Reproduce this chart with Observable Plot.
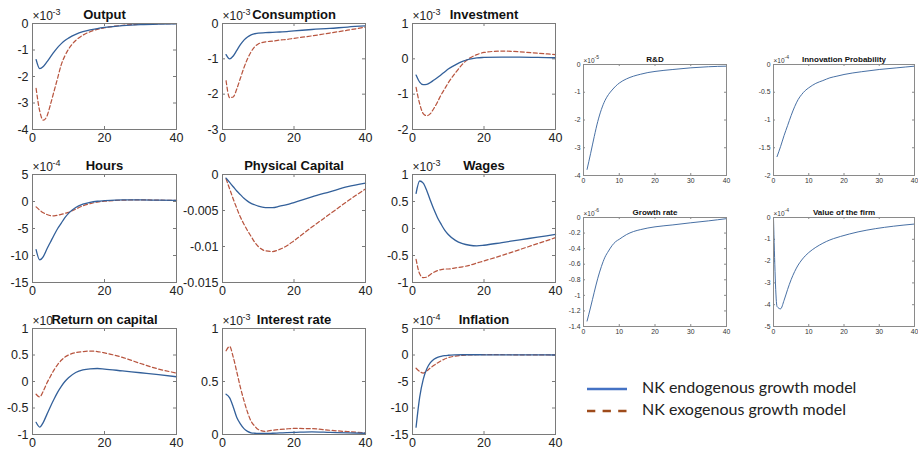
<!DOCTYPE html>
<html><head><meta charset="utf-8">
<script src="https://cdn.jsdelivr.net/npm/d3@7"></script>
<script src="https://cdn.jsdelivr.net/npm/@observablehq/plot@0.6"></script>
<style>
body{margin:0;background:#fff;}
#fig{position:relative;width:918px;height:450px;overflow:hidden;background:#fff;}
#fig svg{position:absolute;}
</style></head><body><div id="fig"></div>
<script>
// ---------- data (values in the units shown on each axis) ----------
const T = [1,2,3,4,5,6,7,8,9,10,12,14,16,18,20,25,30,35,40];
const seriesNames = ["NK endogenous growth model","NK exogenous growth model"];
const leftXLabels = ["0","20","40"];
const rightXLabels = ["0","10","20","30","40"];

const outputEndo = [-1.36,-1.70,-1.62,-1.45,-1.26,-1.07,-0.90,-0.76,-0.64,-0.55,-0.41,-0.31,-0.24,-0.19,-0.15,-0.08,-0.04,-0.02,-0.01];
const outputExo  = [-2.45,-3.30,-3.65,-3.50,-3.05,-2.55,-2.05,-1.55,-1.22,-0.97,-0.64,-0.44,-0.31,-0.22,-0.16,-0.07,-0.03,-0.01,0.0];
const outputY = ["0","-1","-2","-3","-4"];

const consEndo = [-0.88,-1.00,-0.92,-0.76,-0.60,-0.47,-0.38,-0.32,-0.29,-0.27,-0.26,-0.25,-0.24,-0.23,-0.21,-0.17,-0.14,-0.10,-0.07];
const consExo  = [-1.62,-2.10,-2.08,-1.85,-1.55,-1.25,-1.00,-0.80,-0.66,-0.58,-0.52,-0.50,-0.47,-0.45,-0.42,-0.35,-0.27,-0.19,-0.10];
const consY = ["0","-1","-2","-3"];

const invEndo = [-0.46,-0.66,-0.73,-0.72,-0.67,-0.60,-0.53,-0.45,-0.37,-0.29,-0.17,-0.07,-0.01,0.03,0.04,0.05,0.05,0.04,0.03];
const invExo  = [-0.81,-1.27,-1.55,-1.61,-1.55,-1.40,-1.22,-1.02,-0.85,-0.68,-0.40,-0.15,0.02,0.12,0.18,0.22,0.20,0.16,0.12];
const invY = ["1","0","-1","-2"];

const hoursEndo = [-8.9,-10.8,-10.2,-8.8,-7.5,-6.2,-5.0,-4.0,-3.0,-2.2,-1.1,-0.5,-0.15,0.05,0.15,0.3,0.3,0.25,0.2];
const hoursExo  = [-1.0,-1.6,-2.1,-2.4,-2.6,-2.65,-2.55,-2.4,-2.2,-2.0,-1.4,-0.8,-0.4,-0.1,0.05,0.25,0.3,0.25,0.2];
const hoursY = ["5","0","-5","-10","-15"];

const capEndo = [-0.0005,-0.0011,-0.0017,-0.0023,-0.0028,-0.0033,-0.0037,-0.0040,-0.0042,-0.0044,-0.0046,-0.0046,-0.0044,-0.0042,-0.0039,-0.0031,-0.0024,-0.0017,-0.0012];
const capExo  = [-0.0006,-0.0020,-0.0034,-0.0047,-0.0059,-0.0069,-0.0078,-0.0086,-0.0094,-0.0100,-0.0106,-0.0107,-0.0104,-0.0099,-0.0092,-0.0073,-0.0055,-0.0037,-0.0020];
const capY = ["0","-0.005","-0.01","-0.015"];

const wageEndo = [0.65,0.88,0.84,0.70,0.52,0.35,0.20,0.08,-0.03,-0.11,-0.22,-0.28,-0.31,-0.32,-0.31,-0.26,-0.21,-0.16,-0.11];
const wageExo  = [-0.57,-0.84,-0.91,-0.90,-0.85,-0.81,-0.78,-0.76,-0.75,-0.75,-0.73,-0.71,-0.68,-0.64,-0.60,-0.50,-0.39,-0.28,-0.17];
const wageY = ["1","0.5","0","-0.5","-1"];

const retEndo = [-0.77,-0.86,-0.77,-0.62,-0.47,-0.33,-0.20,-0.09,0.00,0.07,0.17,0.22,0.24,0.245,0.235,0.20,0.165,0.13,0.09];
const retExo  = [-0.24,-0.29,-0.18,-0.03,0.10,0.22,0.32,0.40,0.46,0.50,0.545,0.565,0.575,0.565,0.54,0.455,0.34,0.235,0.16];
const retY = ["1","0.5","0","-0.5","-1"];

const intEndo = [0.38,0.345,0.26,0.16,0.10,0.055,0.03,0.016,0.012,0.01,0.01,0.012,0.015,0.018,0.02,0.025,0.02,0.015,0.012];
const intExo  = [0.79,0.83,0.73,0.59,0.445,0.32,0.21,0.125,0.08,0.047,0.03,0.04,0.047,0.053,0.057,0.055,0.04,0.027,0.016];
const intY = ["1","0.5","0"];

const inflEndo = [-13.6,-8.0,-4.6,-2.6,-1.45,-0.8,-0.45,-0.25,-0.12,-0.05,0.02,0.05,0.05,0.05,0.04,0.03,0.02,0.01,0.0];
const inflExo  = [-2.5,-3.1,-3.4,-3.0,-2.45,-1.95,-1.5,-1.1,-0.75,-0.5,-0.2,-0.05,0.02,0.05,0.06,0.05,0.04,0.02,0.01];
const inflY = ["5","0","-5","-10","-15"];

const rdEndo = [-3.78,-3.2,-2.6,-2.05,-1.62,-1.30,-1.08,-0.92,-0.78,-0.67,-0.52,-0.42,-0.35,-0.29,-0.25,-0.18,-0.12,-0.08,-0.06];
const rdY = ["0","-1","-2","-3","-4"];
const ipEndo = [-1.66,-1.48,-1.28,-1.10,-0.92,-0.76,-0.63,-0.54,-0.47,-0.42,-0.34,-0.29,-0.24,-0.21,-0.18,-0.13,-0.09,-0.06,-0.03];
const ipY = ["0","-0.5","-1","-1.5","-2"];
const growthEndo = [-1.33,-1.15,-0.96,-0.78,-0.63,-0.51,-0.43,-0.36,-0.31,-0.28,-0.22,-0.18,-0.155,-0.135,-0.12,-0.095,-0.068,-0.043,-0.015];
const growthY = ["0","-0.2","-0.4","-0.6","-0.8","-1","-1.2","-1.4"];
const firmT = [0,1,2,3,4,5,6,7,8,9,11,13,15,17,19,24,29,34,40];
const firmEndo = [-0.05,-4.08,-4.19,-3.80,-3.30,-2.85,-2.48,-2.18,-1.95,-1.76,-1.48,-1.27,-1.10,-0.97,-0.87,-0.66,-0.51,-0.40,-0.30];
const firmY = ["0","-1","-2","-3","-4","-5"];

// ---------- layout / styles ----------
const BLUE = "#33609a", RED = "#b8553f";
const leftStyle = {xLabels: leftXLabels, tick: 3, tickFont: 12.5, pad: 4, titleFont: 13, titleDy: -5,
  expFont: 12, supFont: 9, supDx: 20, expDy: -4, supDy: -9, lineW: 1.3, dash: "4,2.5",
  frame: "#7a7a7a", text: "#222", m: {l: 50, r: 12, t: 28, b: 24}};
const rightStyle = {xLabels: rightXLabels, tick: 2, tickFont: 6.8, pad: 3, titleFont: 8, titleDy: -3,
  expFont: 6.5, supFont: 5, supDx: 11, expDy: -2, supDy: -5.5, lineW: 0.9, dash: "3,2",
  frame: "#8a8a8a", text: "#333", m: {l: 30, r: 10, t: 16, b: 14}};

const panels = [
  {title: "Output", exp: "-3", x: T, endo: outputEndo, exo: outputExo, yLabels: outputY, box: [32,176,23,129], st: leftStyle},
  {title: "Consumption", exp: "-3", x: T, endo: consEndo, exo: consExo, yLabels: consY, box: [222,365,23,129], st: leftStyle},
  {title: "Investment", exp: "-3", x: T, endo: invEndo, exo: invExo, yLabels: invY, box: [412,555,23,129], st: leftStyle},
  {title: "Hours", exp: "-4", x: T, endo: hoursEndo, exo: hoursExo, yLabels: hoursY, box: [32,176,174,282], st: leftStyle},
  {title: "Physical Capital", exp: null, x: T, endo: capEndo, exo: capExo, yLabels: capY, box: [222,365,174,282], st: leftStyle},
  {title: "Wages", exp: "-3", x: T, endo: wageEndo, exo: wageExo, yLabels: wageY, box: [412,555,174,282], st: leftStyle},
  {title: "Return on capital", exp: "", x: T, endo: retEndo, exo: retExo, yLabels: retY, box: [32,176,328,434], st: leftStyle},
  {title: "Interest rate", exp: "-3", x: T, endo: intEndo, exo: intExo, yLabels: intY, box: [222,365,328,434], st: leftStyle},
  {title: "Inflation", exp: "-4", x: T, endo: inflEndo, exo: inflExo, yLabels: inflY, box: [412,555,328,434], st: leftStyle},
  {title: "R&D", exp: "-5", x: T, endo: rdEndo, exo: null, yLabels: rdY, box: [583,726,64,175], st: rightStyle},
  {title: "Innovation Probability", exp: "-4", x: T, endo: ipEndo, exo: null, yLabels: ipY, box: [773,914,64,175], st: rightStyle},
  {title: "Growth rate", exp: "-6", x: T, endo: growthEndo, exo: null, yLabels: growthY, box: [583,726,217,326], st: rightStyle},
  {title: "Value of the firm", exp: "-4", x: firmT, endo: firmEndo, exo: null, yLabels: firmY, box: [773,914,217,326], st: rightStyle}
];

const fig = document.getElementById("fig");

function drawPanel(p) {
  const st = p.st;
  const [x0, x1, y0, y1] = p.box;
  const W = x1 - x0, H = y1 - y0;
  const yt = p.yLabels.map(Number);
  const xt = st.xLabels.map(Number);
  const yFmt = d => p.yLabels.find(l => Number(l) === d);
  const xFmt = d => st.xLabels.find(l => Number(l) === d);
  const marks = [
    Plot.tickY(yt, {y: d => d, stroke: st.frame, insetRight: W - st.tick}),
    Plot.tickY(yt, {y: d => d, stroke: st.frame, insetLeft: W - st.tick}),
    Plot.tickX(xt, {x: d => d, stroke: st.frame, insetTop: H - st.tick}),
    Plot.tickX(xt, {x: d => d, stroke: st.frame, insetBottom: H - st.tick}),
    Plot.axisY(yt, {tickSize: 0, tickPadding: st.pad, tickFormat: yFmt, fontSize: st.tickFont, fill: st.text, label: null}),
    Plot.axisX(xt, {tickSize: 0, tickPadding: st.pad, tickFormat: xFmt, fontSize: st.tickFont, fill: st.text, label: null})
  ];
  if (p.exo) {
    marks.push(Plot.line(p.x.map((t, i) => ({t, v: p.exo[i]})),
      {x: "t", y: "v", stroke: RED, strokeWidth: st.lineW * 0.95, strokeDasharray: st.dash, curve: "monotone-x"}));
  }
  marks.push(Plot.line(p.x.map((t, i) => ({t, v: p.endo[i]})),
    {x: "t", y: "v", stroke: BLUE, strokeWidth: st.lineW, curve: "monotone-x"}));
  marks.push(Plot.frame({stroke: st.frame, strokeWidth: 1}));
  if (p.exp !== null) {
    marks.push(Plot.text(["\u00d710"], {frameAnchor: "top-left", text: d => d, textAnchor: "start", lineAnchor: "bottom",
      dy: st.expDy, fontSize: st.expFont, fill: st.text}));
    if (p.exp) marks.push(Plot.text([p.exp], {frameAnchor: "top-left", text: d => d, textAnchor: "start", lineAnchor: "bottom",
      dx: st.supDx, dy: st.supDy, fontSize: st.supFont, fill: st.text}));
  }
  marks.push(Plot.text([p.title], {frameAnchor: "top", text: d => d, lineAnchor: "bottom", dy: st.titleDy,
    fontSize: st.titleFont, fontWeight: "bold", fill: "#111"}));

  const svg = Plot.plot({
    width: W + st.m.l + st.m.r, height: H + st.m.t + st.m.b,
    marginLeft: st.m.l, marginRight: st.m.r, marginTop: st.m.t, marginBottom: st.m.b,
    x: {domain: [0, 40], label: null}, y: {domain: d3.extent(yt), label: null},
    style: {background: "transparent", overflow: "visible", fontFamily: "'Liberation Sans', Arial, sans-serif", color: st.text},
    marks
  });
  svg.style.position = "absolute";
  svg.style.left = (x0 - st.m.l) + "px";
  svg.style.top = (y0 - st.m.t) + "px";
  fig.appendChild(svg);
}
panels.forEach(drawPanel);

// ---------- legend ----------
const ns = "http://www.w3.org/2000/svg";
const leg = document.createElementNS(ns, "svg");
leg.setAttribute("width", 320); leg.setAttribute("height", 60);
leg.style.left = "580px"; leg.style.top = "370px";
const legStyles = [{stroke: "#4472c4", dash: null}, {stroke: "#9e4b1b", dash: "8.3,7.3"}];
seriesNames.forEach((name, i) => {
  const yy = 19 + i * 22;
  const ln = document.createElementNS(ns, "line");
  ln.setAttribute("x1", 7); ln.setAttribute("x2", 47);
  ln.setAttribute("y1", yy); ln.setAttribute("y2", yy);
  ln.setAttribute("stroke", legStyles[i].stroke); ln.setAttribute("stroke-width", 2.5);
  if (legStyles[i].dash) ln.setAttribute("stroke-dasharray", legStyles[i].dash);
  leg.appendChild(ln);
  const tx = document.createElementNS(ns, "text");
  tx.setAttribute("x", 62); tx.setAttribute("y", yy + 4);
  tx.setAttribute("font-family", "Lato, 'Open Sans', sans-serif");
  tx.setAttribute("font-size", 16); tx.setAttribute("fill", "#222");
  tx.textContent = name;
  leg.appendChild(tx);
});
fig.appendChild(leg);
</script>
</body></html>
